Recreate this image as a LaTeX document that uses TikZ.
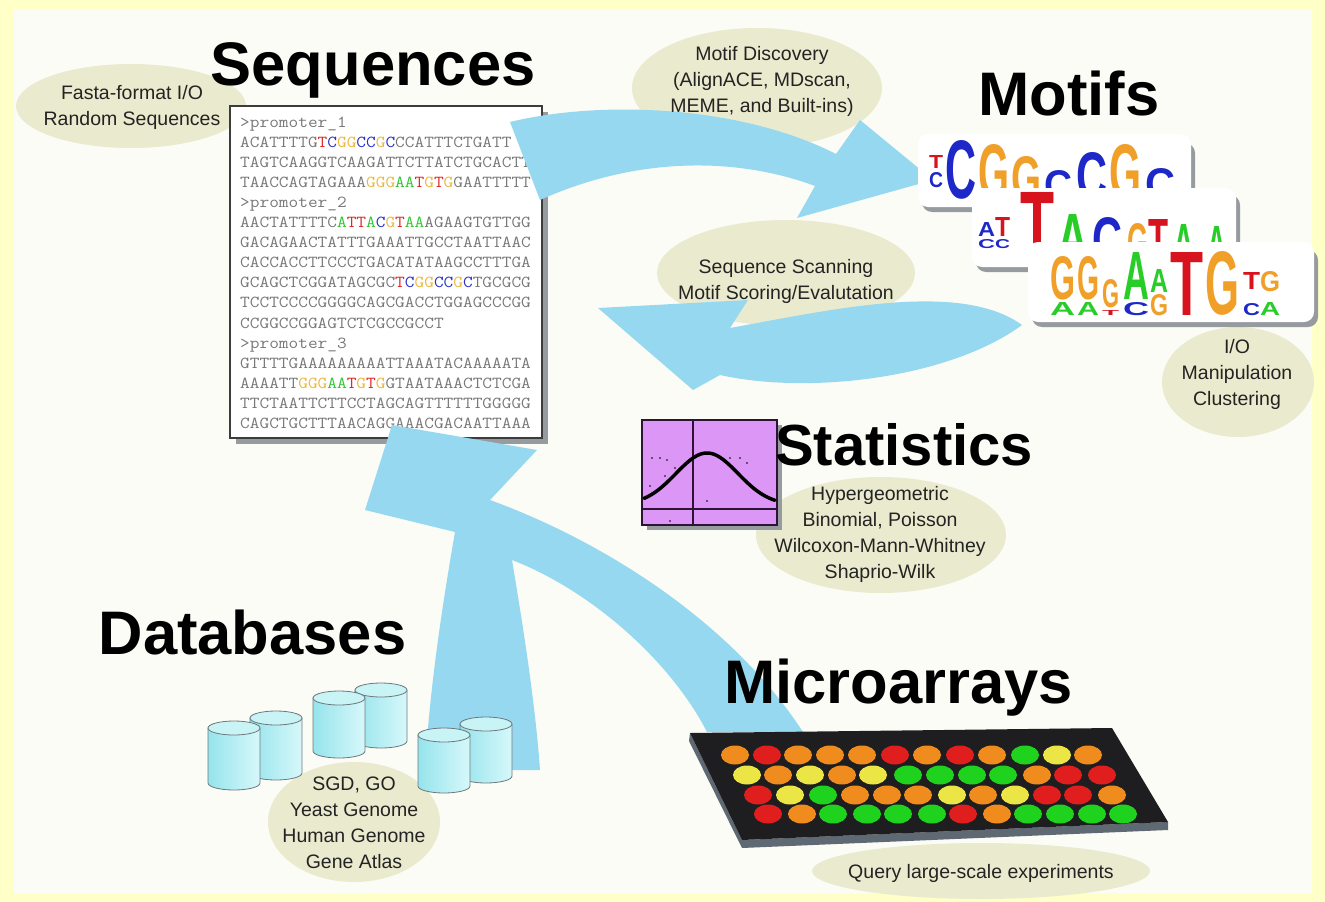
\documentclass[tikz,border=0pt]{standalone}
\usepackage{fontspec}
\usepackage{graphicx}
\setmainfont{Liberation Sans}
\newfontfamily\seqfont{Latin Modern Mono}[FakeStretch=1.12]

% palette
\definecolor{bgouter}{RGB}{255,255,200}
\definecolor{bginner}{RGB}{251,252,246}
\definecolor{bubble}{RGB}{234,235,206}
\definecolor{flow}{RGB}{150,216,240}
\definecolor{ink}{RGB}{35,35,35}
\definecolor{seqgray}{RGB}{120,120,120}
\definecolor{boxedge}{RGB}{60,60,60}
\definecolor{ntT}{RGB}{220,40,40}
\definecolor{ntC}{RGB}{40,50,200}
\definecolor{ntG}{RGB}{236,185,60}
\definecolor{ntA}{RGB}{50,200,50}
\definecolor{lgT}{RGB}{215,20,30}
\definecolor{lgC}{RGB}{30,40,200}
\definecolor{lgG}{RGB}{240,160,40}
\definecolor{lgA}{RGB}{40,205,40}
\definecolor{shadowgray}{RGB}{150,155,160}
\definecolor{plotfill}{RGB}{220,150,245}
\definecolor{plotline}{RGB}{45,20,55}
\definecolor{slabtop}{RGB}{30,30,32}
\definecolor{slabside}{RGB}{95,105,115}
\definecolor{spotO}{RGB}{240,140,30}
\definecolor{spotR}{RGB}{225,30,30}
\definecolor{spotG}{RGB}{30,210,30}
\definecolor{spotY}{RGB}{235,230,70}
\definecolor{cylL}{RGB}{150,228,236}
\definecolor{cylR}{RGB}{215,248,250}
\definecolor{cyltop}{RGB}{200,244,246}
\definecolor{cyledge}{RGB}{110,120,125}

% coloured bases inside the sequence listing
\newcommand\nuT{\textcolor{ntT}{T}}
\newcommand\nuC{\textcolor{ntC}{C}}
\newcommand\nuG{\textcolor{ntG}{G}}
\newcommand\nuA{\textcolor{ntA}{A}}

% one stretched letter of a sequence logo: x, bottom y, width, height, colour, letter
\newcounter{lg}
\newcommand\lgl[6]{\stepcounter{lg}%
  \node[logo] (lg\arabic{lg}) at (#1,#2) {\resizebox{#3pt}{#4pt}{\textcolor{#5}{\bfseries #6}}};}

% database cylinder: left x, centre y of top rim, centre y of bottom rim
\newcommand\dbcyl[3]{%
  \path[draw=cyledge, line width=0.8pt, left color=cylL, right color=cylR]
    (#1,#2) -- (#1,#3) arc[start angle=180, end angle=360, x radius=26pt, y radius=7pt]
    -- (#1+52,#2) -- cycle;
  \path[draw=cyledge, line width=0.8pt, fill=cyltop] (#1+26,#2) ellipse[x radius=26pt, y radius=7pt];}

\begin{document}
\begin{tikzpicture}[x=1pt, y=-1pt,
  bubbletext/.style={font=\fontsize{19.5}{26}\selectfont, text=ink, align=center, inner sep=0},
  title/.style={font=\fontsize{61.5}{62}\selectfont\bfseries, anchor=base west, inner sep=0},
  seqline/.style={font=\seqfont\fontsize{16.8}{20}\selectfont, text=seqgray, anchor=base west, inner sep=0},
  logo/.style={anchor=south west, inner sep=0},
  flowshape/.style={fill=flow},
  card/.style={fill=white, rounded corners=10pt},
  cardshadow/.style={fill=shadowgray, rounded corners=10pt}]

\useasboundingbox (0,0) rectangle (1325,902);

% frame
\fill[bgouter] (0,0) rectangle (1325,902);
\fill[bginner] (14,10) rectangle (1312,893);

% label bubbles
\fill[bubble] (131,106) ellipse[x radius=115pt, y radius=42pt];
\fill[bubble] (757,88) ellipse[x radius=125pt, y radius=60pt];
\fill[bubble] (786,273) ellipse[x radius=129pt, y radius=53pt];
\fill[bubble] (1238,382) ellipse[x radius=76pt, y radius=55pt];
\fill[bubble] (881,535) ellipse[x radius=125pt, y radius=58pt];
\fill[bubble] (354,822) ellipse[x radius=86pt, y radius=60pt];
\fill[bubble] (981,871) ellipse[x radius=169pt, y radius=28pt];

% FASTA listing
\fill[shadowgray] (236,112) rectangle (548,444);
\filldraw[fill=white, draw=boxedge, line width=2pt] (230,106) rectangle (542,438);
\node[seqline] (s1)  at (240,127.0) {>promoter\_1};
\node[seqline] (s2)  at (240,147.1) {ACATTTTG\nuT\nuC\nuG\nuG\nuC\nuC\nuG\nuC{}CCATTTCTGATT};
\node[seqline] (s3)  at (240,167.2) {TAGTCAAGGTCAAGATTCTTATCTGCACTT};
\node[seqline] (s4)  at (240,187.3) {TAACCAGTAGAAA\nuG\nuG\nuG\nuA\nuA\nuT\nuG\nuT\nuG{}GAATTTTT};
\node[seqline] (s5)  at (240,207.4) {>promoter\_2};
\node[seqline] (s6)  at (240,227.5) {AACTATTTTC\nuA\nuT\nuT\nuA\nuC\nuG\nuT\nuA\nuA{}AGAAGTGTTGG};
\node[seqline] (s7)  at (240,247.6) {GACAGAACTATTTGAAATTGCCTAATTAAC};
\node[seqline] (s8)  at (240,267.7) {CACCACCTTCCCTGACATATAAGCCTTTGA};
\node[seqline] (s9)  at (240,287.8) {GCAGCTCGGATAGCGC\nuT\nuC\nuG\nuG\nuC\nuC\nuG\nuC{}TGCGCG};
\node[seqline] (s10) at (240,307.9) {TCCTCCCCGGGGCAGCGACCTGGAGCCCGG};
\node[seqline] (s11) at (240,328.0) {CCGGCCGGAGTCTCGCCGCCT};
\node[seqline] (s12) at (240,348.1) {>promoter\_3};
\node[seqline] (s13) at (240,368.2) {GTTTTGAAAAAAAAATTAAATACAAAAATA};
\node[seqline] (s14) at (240,388.3) {AAAATT\nuG\nuG\nuG\nuA\nuA\nuT\nuG\nuT\nuG{}GTAATAAACTCTCGA};
\node[seqline] (s15) at (240,408.4) {TTCTAATTCTTCCTAGCAGTTTTTTGGGGG};
\node[seqline] (s16) at (240,428.5) {CAGCTGCTTTAACAGGAAACGACAATTAAA};

% discovery arrow: sequences -> motifs
\fill[flowshape] (510,122) .. controls (600,100) and (740,105) .. (836,154)
  -- (860,120) -- (933,180) -- (797,218) -- (815,186)
  .. controls (740,158) and (640,155) .. (540,200) -- cycle;

% scanning arrow: motifs -> sequences
\fill[flowshape] (598,308) -- (748,300) -- (730,328)
  .. controls (830,310) and (960,280) .. (1022,325)
  .. controls (950,378) and (810,395) .. (720,375)
  -- (693,390) -- cycle;

% merged arrow: databases and microarrays -> sequences
\fill[flowshape] (392,425) -- (537,450) -- (490,500)
  .. controls (600,540) and (730,620) .. (803,732)
  -- (707,732)
  .. controls (670,660) and (590,590) .. (512,560)
  .. controls (522,620) and (535,700) .. (540,770)
  -- (425,770)
  .. controls (430,680) and (445,590) .. (455,532)
  -- (365,510) -- cycle;

% motif logos, back to front
\fill[cardshadow] (922,143) rectangle (1195,212);
\fill[card] (918,134) rectangle (1191,207);
\lgl{929}{169}{14}{13}{lgT}{T}
\lgl{929}{188}{14}{15}{lgC}{C}
\lgl{945}{200}{31}{58}{lgC}{C}
\lgl{978}{200}{31}{55}{lgG}{G}
\lgl{1011}{200}{30}{43}{lgG}{G}
\lgl{1044}{200}{28}{29}{lgC}{C}
\lgl{1076}{200}{31}{47}{lgC}{C}
\lgl{1109}{200}{32}{55}{lgG}{G}
\lgl{1145}{200}{30}{31}{lgC}{C}

\fill[cardshadow] (976,195) rectangle (1240,272);
\fill[card] (972,188) rectangle (1236,267);
\lgl{978}{237}{17}{14}{lgC}{A}
\lgl{995}{237}{15}{19}{lgT}{T}
\lgl{978}{249}{17}{9}{lgC}{C}
\lgl{995}{249}{15}{9}{lgC}{C}
\lgl{1020}{262}{34}{69}{lgT}{T}
\lgl{1057}{262}{31}{47}{lgA}{A}
\lgl{1092}{262}{30}{44}{lgC}{C}
\lgl{1127}{262}{21}{38}{lgG}{G}
\lgl{1148}{262}{20}{42}{lgT}{T}
\lgl{1173}{262}{21}{37}{lgA}{A}
\lgl{1207}{262}{19}{35}{lgA}{A}

\fill[cardshadow] (1032,250) rectangle (1318,327);
\fill[card] (1028,242) rectangle (1314,322);
\lgl{1050}{300}{25}{43}{lgG}{G}
\lgl{1077}{300}{22}{43}{lgG}{G}
\lgl{1050}{316}{25}{13}{lgA}{A}
\lgl{1077}{316}{22}{13}{lgA}{A}
\lgl{1102}{308}{17}{28}{lgG}{G}
\lgl{1102}{316}{17}{5}{lgT}{T}
\lgl{1123}{300}{26}{47}{lgA}{A}
\lgl{1123}{316}{26}{13}{lgC}{C}
\lgl{1150}{293}{18}{23}{lgA}{A}
\lgl{1150}{316}{18}{21}{lgG}{G}
\lgl{1170}{316}{33}{63}{lgT}{T}
\lgl{1205}{316}{34}{63}{lgG}{G}
\lgl{1243}{290}{17}{17}{lgT}{T}
\lgl{1260}{292}{20}{20}{lgG}{G}
\lgl{1243}{316}{17}{12}{lgC}{C}
\lgl{1260}{316}{20}{13}{lgA}{A}

% statistics chart
\fill[shadowgray] (647,425) rectangle (782,530);
\filldraw[fill=plotfill, draw=plotline, line width=1.5pt] (642,420) rectangle (777,525);
\draw[plotline, line width=1.2pt] (693,420) -- (693,525);
\draw[plotline, line width=1.2pt] (642,509) -- (777,509);
\foreach \px/\py in {652/458,660/458,667/460,675/468,665/476,650/486,730/458,740/458,747/463,748/483,707/501,670/521}
  \fill[black] (\px,\py) circle[radius=0.9pt];
\draw[black, line width=3.5pt, line cap=round] plot[domain=644:775, samples=80, smooth]
  (\x, {505-52*exp(-((\x-707)^2)/1922)});

% database cylinders, back to front
\dbcyl{250}{718}{773}
\dbcyl{208}{728}{783}
\dbcyl{355}{690}{741}
\dbcyl{313}{698}{751}
\dbcyl{460}{724}{776}
\dbcyl{418}{735}{786}

% microarray slide
\fill[slabside] (690,733) -- (742,840) -- (1168,822) -- (1168,830) -- (742,848) -- (689,741) -- cycle;
\fill[slabtop] (690,733) -- (1112,728) -- (1168,822) -- (742,840) -- cycle;
\foreach \sx/\sc in {735/O,767/R,798/O,830/O,862/O,895/R,927/O,960/R,992/O,1025/G,1057/Y,1088/O}
  \fill[spot\sc] (\sx,755) ellipse[x radius=14pt, y radius=9.5pt];
\foreach \sx/\sc in {747/Y,778/O,810/Y,842/O,873/Y,908/G,940/G,972/G,1003/G,1037/O,1068/R,1102/R}
  \fill[spot\sc] (\sx,775) ellipse[x radius=14pt, y radius=9.5pt];
\foreach \sx/\sc in {758/R,790/Y,823/G,855/O,887/O,918/O,952/Y,983/O,1015/Y,1047/R,1078/R,1112/O}
  \fill[spot\sc] (\sx,795) ellipse[x radius=14pt, y radius=9.5pt];
\foreach \sx/\sc in {768/R,802/O,833/G,867/G,898/G,932/G,963/R,997/O,1028/G,1060/G,1092/G,1123/G}
  \fill[spot\sc] (\sx,814) ellipse[x radius=14pt, y radius=9.5pt];

% bubble texts
\node[bubbletext] (fasta) at (132,107) {Fasta-format I/O\\Random Sequences};
\node[bubbletext] (discovery) at (762,81.5) {Motif Discovery\\(AlignACE, MDscan,\\MEME, and Built-ins)};
\node[bubbletext] (scanning) at (786,281) {Sequence Scanning\\Motif Scoring/Evalutation};
\node[bubbletext] (motifops) at (1237,374) {I/O\\Manipulation\\Clustering};
\node[bubbletext] (tests) at (880,534.5) {Hypergeometric\\Binomial, Poisson\\Wilcoxon-Mann-Whitney\\Shaprio-Wilk};
\node[bubbletext] (dbnames) at (354,823) {SGD, GO\\Yeast Genome\\Human Genome\\Gene Atlas};
\node[bubbletext] (query) at (981,873.5) {Query large-scale experiments};

% section titles
\node[title] (tSeq) at (210.5,85) {Sequences};
\node[title] (tMotif) at (978,115) {Motifs};
\node[title, font=\fontsize{58}{60}\selectfont\bfseries] (tStat) at (775,465) {Statistics};
\node[title] (tDb) at (98.5,654) {Databases};
\node[title] (tMicro) at (724,703) {Microarrays};
\end{tikzpicture}
\end{document}
